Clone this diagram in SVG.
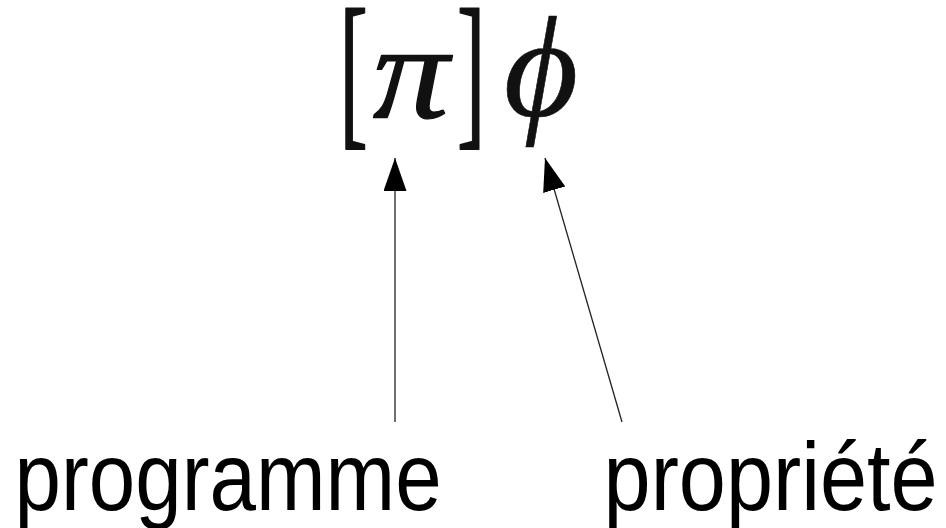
<svg xmlns="http://www.w3.org/2000/svg" width="946" height="528" viewBox="0 0 946 528">
  <style>
    .math { font-family: "Liberation Serif", "DejaVu Serif", serif; fill: #111; stroke: #111; stroke-linejoin: round; }
    .it { font-style: italic; }
    .label { font-family: "Liberation Sans", Arial, sans-serif; font-size: 96px; fill: #000; }
    .conn { stroke: #222; stroke-width: 1.3; fill: none; }
  </style>
  <defs>
    <marker id="arrow" markerUnits="userSpaceOnUse" markerWidth="34" markerHeight="24" refX="33" refY="11.5" orient="auto">
      <path d="M0,0 L33,11.5 L0,23 Z" fill="#000"/>
    </marker>
  </defs>

  <!-- formula: [pi] phi -->
  <g id="formula">
    <g id="bracket-left" transform="translate(339.5,125.5) scale(1,2)">
      <text class="math" font-size="85" stroke-width="1" x="0" y="0">[</text>
    </g>
    <g id="pi" transform="translate(411,118) scale(1.12,1)">
      <text class="math it" font-size="136" stroke-width="1.2" x="0" y="0" text-anchor="middle">π</text>
    </g>
    <g id="bracket-right" transform="translate(457,125.5) scale(1,2)">
      <text class="math" font-size="85" stroke-width="1" x="0" y="0">]</text>
    </g>
    <text id="phi" class="math it" font-size="144" stroke-width="0.6" x="541" y="116" text-anchor="middle">ϕ</text>
  </g>

  <!-- connectors from the labels up to the formula -->
  <g id="connectors">
    <line class="conn" x1="395" y1="422" x2="395" y2="158" marker-end="url(#arrow)"/>
    <line class="conn" x1="622" y1="422" x2="545" y2="158" marker-end="url(#arrow)"/>
  </g>

  <g id="programme">
    <text class="label" x="14.6" y="510" textLength="427" lengthAdjust="spacingAndGlyphs">programme</text>
  </g>
  <g id="propriete">
    <text class="label" x="603.6" y="510" textLength="334" lengthAdjust="spacingAndGlyphs">propriété</text>
  </g>
</svg>
